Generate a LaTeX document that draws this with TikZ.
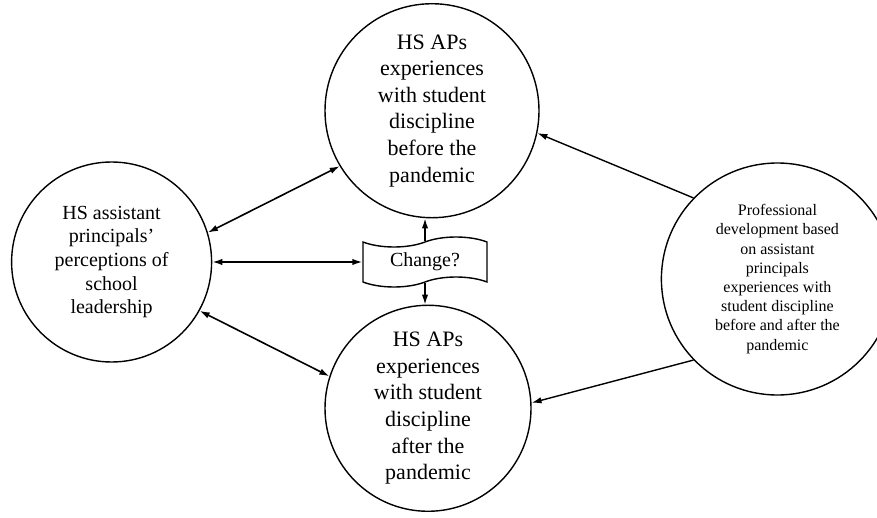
\documentclass[tikz,border=0pt]{standalone}
\usepackage{fontspec}
\setmainfont{Liberation Serif}
\usetikzlibrary{positioning, arrows.meta, shapes.symbols}
\tikzset{
  bubble/.style = {circle, draw=black, line width=0.7pt, inner sep=0pt,
                   align=center},
  flag/.style   = {tape, draw=black, line width=0.7pt, minimum width=62pt,
                   minimum height=25pt, tape bend height=5pt, inner sep=1pt,
                   align=center, font=\fontsize{10}{12}\selectfont},
  ar/.style     = {-{Latex[length=5pt,width=3.2pt]}, line width=0.7pt},
  dar/.style    = {{Latex[length=5pt,width=3.2pt]}-{Latex[length=5pt,width=3.2pt]},
                   line width=0.8pt},
}

\begin{document}
\begin{tikzpicture}
  \useasboundingbox (0,0) rectangle (438.5pt,-259pt);

  \node[flag] (change) at (212.5pt,-131pt) {Change?};

  \node[bubble, minimum size=107pt, above=11.5pt of change, xshift=3.5pt,
        font=\fontsize{11}{13.3}\selectfont] (before)
       {HS APs\\experiences\\with student\\discipline\\before the\\pandemic};
  \node[bubble, minimum size=103pt, below=11pt of change, xshift=1.5pt,
        font=\fontsize{11}{13.3}\selectfont] (after)
       {HS APs\\experiences\\with student\\discipline\\after the\\pandemic};
  \node[bubble, minimum size=100pt, left=75pt of change,
        font=\fontsize{10}{11.8}\selectfont] (percep)
       {HS assistant\\principals'\\perceptions of\\school\\leadership};
  \node[bubble, minimum size=116pt, right=86.5pt of change, yshift=-8.5pt,
        font=\fontsize{8}{9.6}\selectfont] (profdev)
       {Professional\\development based\\on assistant\\principals\\experiences with\\student discipline\\before and after the\\pandemic};

  \draw[dar] (percep.17) -- (before.211);
  \draw[dar] (percep.east) -- (change.west);
  \draw[dar] (percep.-29) -- (after.162);
  \draw[ar] (change.north) -- (change.north |- before.south);
  \draw[ar] (change.south) -- (change.south |- after.north);
  \draw[ar] (profdev.136) -- (before.348);
  \draw[ar] (profdev.224) -- (after.3);

\end{tikzpicture}
\end{document}
